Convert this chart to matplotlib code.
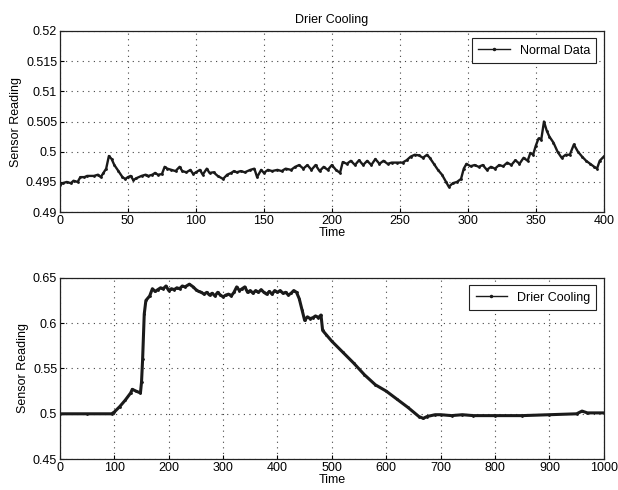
import matplotlib
matplotlib.use('Agg')
import matplotlib.pyplot as plt

# Normal data (upper plot)
normal_t = [0, 2, 5, 8, 10, 13, 15, 18, 20, 25, 28, 30, 32, 34, 36, 38, 40, 43, 46, 48,
            50, 52, 54, 56, 60, 63, 65, 68, 70, 72, 75, 77, 79, 82, 85, 88, 90, 93, 96, 98,
            100, 103, 105, 108, 110, 113, 116, 120, 123, 126, 128, 130, 133, 136, 140, 143, 145, 148,
            150, 153, 156, 160, 163, 166, 170, 173, 176, 179, 182, 185, 188, 191, 194, 197,
            200, 203, 206, 208, 211, 214, 217, 220, 223, 226, 229, 232, 235, 238, 241, 244, 248,
            252, 255, 258, 261, 264, 267, 270, 272, 275, 278, 281, 284, 286, 289, 292, 295, 297, 299,
            302, 305, 308, 311, 314, 317, 320, 323, 326, 329, 332, 335, 338, 341, 344, 346, 348,
            350, 352, 354, 356, 358, 360, 363, 366, 369, 372, 375, 378, 381, 384, 387, 390, 393,
            395, 397, 400]
normal_v = [0.4945, 0.4948, 0.4950, 0.4948, 0.4952, 0.4950, 0.4958, 0.4958, 0.4960, 0.4960,
            0.4962, 0.4958, 0.4965, 0.4972, 0.4993, 0.4988, 0.4978, 0.4968, 0.4958, 0.4955,
            0.4958, 0.4960, 0.4953, 0.4956, 0.4960, 0.4962, 0.4960, 0.4962, 0.4965, 0.4962,
            0.4963, 0.4975, 0.4972, 0.4970, 0.4968, 0.4975, 0.4968, 0.4966, 0.4970, 0.4963,
            0.4966, 0.4970, 0.4962, 0.4972, 0.4965, 0.4966, 0.4960, 0.4955, 0.4962, 0.4965,
            0.4968, 0.4966, 0.4968, 0.4966, 0.4970, 0.4972, 0.4958, 0.4970,
            0.4965, 0.4970, 0.4968, 0.4970, 0.4968, 0.4972, 0.4970, 0.4975, 0.4978, 0.4972,
            0.4978, 0.4970, 0.4978, 0.4968, 0.4975, 0.4970,
            0.4978, 0.4970, 0.4965, 0.4983, 0.4980, 0.4985, 0.4978, 0.4986, 0.4978, 0.4985,
            0.4978, 0.4988, 0.4980, 0.4985, 0.4980, 0.4982, 0.4982,
            0.4982, 0.4986, 0.4992, 0.4995, 0.4994, 0.4990, 0.4995, 0.4990, 0.4980, 0.4970,
            0.4962, 0.4950, 0.4942, 0.4948, 0.4950, 0.4955, 0.4972, 0.4980,
            0.4976, 0.4978, 0.4975, 0.4978, 0.4970, 0.4975, 0.4972, 0.4978, 0.4976, 0.4982,
            0.4978, 0.4986, 0.4980, 0.4990, 0.4985, 0.4998, 0.4995,
            0.5010, 0.5022, 0.5020, 0.5050, 0.5035, 0.5025, 0.5015, 0.5000, 0.4990, 0.4995,
            0.4995, 0.5012, 0.5000, 0.4992, 0.4985, 0.4980, 0.4975,
            0.4972, 0.4985, 0.4992]

# Drier cooling fault (lower plot)
fault_t = [0, 50, 95, 100, 110, 120, 130, 133, 140, 148, 150, 152, 155, 158, 165, 170, 175,
           180, 185, 190, 195, 200, 205, 210, 215, 220, 225, 230, 238, 245, 250, 255, 260, 265,
           270, 275, 280, 285, 290, 295, 300, 305, 310, 315, 320, 325, 330, 335, 340, 345, 350,
           355, 360, 365, 370, 375, 380, 385, 390, 395, 400, 405, 410, 415, 420, 425, 430, 435,
           440, 445, 450, 455, 460, 465, 470, 475, 480, 483, 490, 500, 520, 540, 560, 580, 600,
           620, 640, 660, 668, 675, 690, 700, 720, 740, 760, 800, 850, 900, 950, 960, 970, 1000]
fault_v = [0.500, 0.500, 0.500, 0.502, 0.508, 0.515, 0.523, 0.527, 0.525, 0.523, 0.535, 0.560,
           0.610, 0.625, 0.630, 0.638, 0.635, 0.637, 0.639, 0.638, 0.641, 0.636, 0.638, 0.637,
           0.639, 0.638, 0.641, 0.640, 0.643, 0.640, 0.637, 0.635, 0.634, 0.632, 0.634, 0.631,
           0.633, 0.630, 0.634, 0.631, 0.629, 0.631, 0.632, 0.630, 0.634, 0.640, 0.636, 0.638,
           0.640, 0.634, 0.636, 0.633, 0.636, 0.634, 0.637, 0.634, 0.632, 0.635, 0.632, 0.636,
           0.634, 0.636, 0.633, 0.634, 0.631, 0.633, 0.636, 0.634, 0.627, 0.615, 0.603, 0.607,
           0.605, 0.606, 0.608, 0.606, 0.609, 0.592, 0.587, 0.580, 0.568, 0.556, 0.543, 0.532,
           0.525, 0.516, 0.507, 0.497, 0.495, 0.497, 0.499, 0.499, 0.498, 0.499, 0.498, 0.498,
           0.498, 0.499, 0.500, 0.503, 0.501, 0.501]

plt.rcParams['font.family'] = ['Liberation Sans', 'DejaVu Sans']
plt.rcParams['font.size'] = 9

fig = plt.figure(figsize=(6.18, 4.9), dpi=100)
ax1 = fig.add_axes([0.097, 0.567, 0.880, 0.370])
ax2 = fig.add_axes([0.097, 0.063, 0.880, 0.370])

lineColor = '#1a1a1a'

def styleAxes(ax, xlim, ylim, xticks, yticks, ytickLabels):
    ax.set_xlim(xlim)
    ax.set_ylim(ylim)
    ax.set_xticks(xticks)
    ax.set_yticks(yticks)
    ax.set_yticklabels(ytickLabels)
    ax.tick_params(direction='in', length=3, width=0.8, pad=2, labelsize=9)
    ax.grid(True, linestyle=(0, (1, 4)), color='#444444', linewidth=0.8)
    for s in ax.spines.values():
        s.set_linewidth(0.9)
        s.set_color('#222222')
    ax.set_xlabel('Time', fontsize=9, labelpad=0)
    ax.set_ylabel('Sensor Reading', fontsize=9, labelpad=3)

ax1.plot(normal_t, normal_v, color=lineColor, linewidth=1.7, marker='.', markersize=2,
         label='Normal Data')
styleAxes(ax1, (0, 400), (0.49, 0.52), range(0, 401, 50),
          [0.49, 0.495, 0.5, 0.505, 0.51, 0.515, 0.52],
          ['0.49', '0.495', '0.5', '0.505', '0.51', '0.515', '0.52'])
ax1.set_title('Drier Cooling', fontsize=9, pad=6)

ax2.plot(fault_t, fault_v, color=lineColor, linewidth=2.2, marker='.', markersize=2,
         label='Drier Cooling')
styleAxes(ax2, (0, 1000), (0.45, 0.65), range(0, 1001, 100),
          [0.45, 0.5, 0.55, 0.6, 0.65],
          ['0.45', '0.5', '0.55', '0.6', '0.65'])

for ax in (ax1, ax2):
    leg = ax.legend(loc='upper right', fancybox=False, framealpha=1, edgecolor='#222222',
                    fontsize=9, handlelength=2.5, borderpad=0.5, borderaxespad=0.6)
    leg.get_frame().set_linewidth(0.8)
    for h in leg.legend_handles:
        h.set_linewidth(1.0)
        h.set_markersize(3)

fig.savefig('out.png', dpi=100)
